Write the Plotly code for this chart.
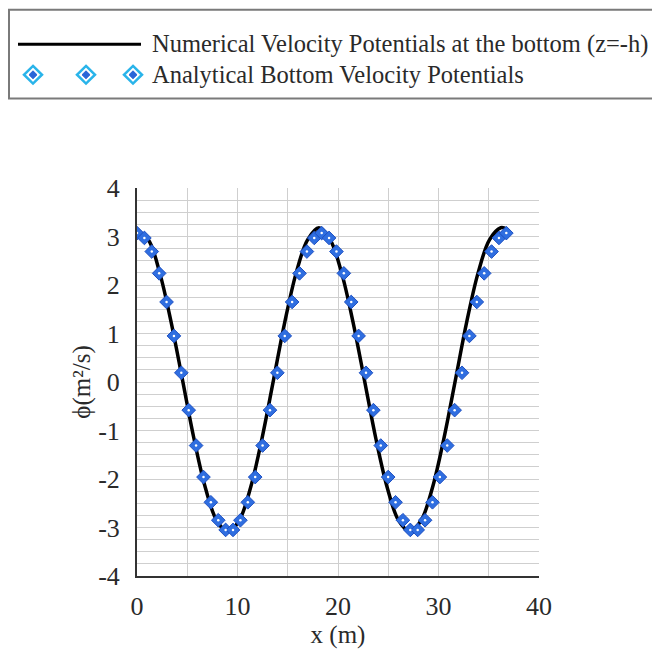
import plotly.graph_objects as go

# Analytical bottom velocity potentials (markers)
x_analytical = [0, 0.735, 1.47, 2.205, 2.94, 3.675, 4.41, 5.145, 5.88, 6.615, 7.35, 8.085, 8.82,
                9.555, 10.29, 11.025, 11.76, 12.495, 13.23, 13.965, 14.7, 15.435, 16.17, 16.905,
                17.64, 18.375, 19.11, 19.845, 20.58, 21.315, 22.05, 22.785, 23.52, 24.255, 24.99,
                25.725, 26.46, 27.195, 27.93, 28.665, 29.4, 30.135, 30.87, 31.605, 32.34, 33.075,
                33.81, 34.545, 35.28, 36.015, 36.75]
phi_analytical = [3.07, 2.97, 2.69, 2.24, 1.65, 0.95, 0.19, -0.58, -1.31, -1.96, -2.48, -2.85, -3.05,
                  -3.05, -2.85, -2.48, -1.96, -1.31, -0.58, 0.19, 0.95, 1.65, 2.24, 2.69, 2.97,
                  3.07, 2.97, 2.69, 2.24, 1.65, 0.95, 0.19, -0.58, -1.31, -1.96, -2.48, -2.85, -3.05,
                  -3.05, -2.85, -2.48, -1.96, -1.31, -0.58, 0.19, 0.95, 1.65, 2.24, 2.69, 2.97, 3.07]

# Numerical velocity potentials at the bottom (line)
x_numerical = [0, 1.13, 2.26, 3.39, 4.53, 5.66, 6.79, 7.92, 9.05, 10.18, 11.31, 12.44, 13.58,
               14.71, 15.84, 16.97, 18.10, 19.23, 20.36, 21.49, 22.63, 23.76, 24.89, 26.02, 27.15,
               28.28, 29.41, 30.54, 31.68, 32.81, 33.94, 35.07, 36.20, 36.80]
phi_numerical = [3.10, 2.93, 2.25, 1.24, 0.04, -1.16, -2.17, -2.85, -3.09, -2.85, -2.17, -1.16, 0.04,
                 1.24, 2.25, 2.93, 3.18, 2.93, 2.25, 1.24, 0.04, -1.16, -2.17, -2.85, -3.08,
                 -2.85, -2.17, -1.16, 0.04, 1.24, 2.25, 2.93, 3.18, 3.15]

x_ticks = [0, 10, 20, 30, 40]
y_ticks = [-4, -3, -2, -1, 0, 1, 2, 3, 4]

legend_labels = ["Numerical Velocity Potentials at the bottom (z=-h)",
                 "Analytical Bottom Velocity Potentials"]

FONT = "Liberation Serif"
TXT = "#2a2a2a"
W, H = 652, 653
PL, PR, PT, PB = 137, 539, 188, 582  # plot area in pixels


def fx(p):
    return (p - PL) / (PR - PL)


def fy(p):
    return (PB - p) / (PB - PT)


def diamond_path(cx, cy, r):
    return (f"M {fx(cx)},{fy(cy - r)} L {fx(cx + r)},{fy(cy)} "
            f"L {fx(cx)},{fy(cy + r)} L {fx(cx - r)},{fy(cy)} Z")


fig = go.Figure()

fig.add_trace(go.Scatter(
    x=x_numerical, y=phi_numerical, mode="lines",
    line=dict(color="black", width=3.5, shape="spline", smoothing=1.0),
    showlegend=False, name=legend_labels[0]))

fig.add_trace(go.Scatter(
    x=x_analytical, y=phi_analytical, mode="markers",
    marker=dict(symbol="diamond", size=10.5, color="#2f6ee0",
                line=dict(color="#1d4fc2", width=1)),
    showlegend=False, name=legend_labels[1]))
fig.add_trace(go.Scatter(
    x=x_analytical, y=phi_analytical, mode="markers",
    marker=dict(symbol="circle", size=2.5, color="white", line=dict(width=0)),
    showlegend=False, hoverinfo="skip"))

shapes = [
    dict(type="rect", xref="paper", yref="paper", x0=fx(9), x1=fx(700), y0=fy(97), y1=fy(7),
         line=dict(color="#7a7a7a", width=2), fillcolor="rgba(0,0,0,0)", layer="above"),
    dict(type="line", xref="paper", yref="paper", x0=fx(18), x1=fx(141), y0=fy(42), y1=fy(42),
         line=dict(color="black", width=3)),
]
for cx in [33, 86, 133]:
    shapes.append(dict(type="path", xref="paper", yref="paper", path=diamond_path(cx, 73, 9),
                       line=dict(color="#29b4ea", width=2.5), fillcolor="white"))
    shapes.append(dict(type="path", xref="paper", yref="paper", path=diamond_path(cx, 73, 4),
                       line=dict(color="#2a66d8", width=1), fillcolor="#2a66d8"))

annotations = [
    dict(text=legend_labels[0], xref="paper", yref="paper", x=fx(150), y=fy(42),
         xanchor="left", yanchor="middle", showarrow=False,
         font=dict(family=FONT, size=24.5, color=TXT)),
    dict(text=legend_labels[1], xref="paper", yref="paper", x=fx(150), y=fy(73),
         xanchor="left", yanchor="middle", showarrow=False,
         font=dict(family=FONT, size=24.5, color=TXT)),
]

fig.update_layout(
    width=W, height=H,
    margin=dict(l=PL, r=W - PR, t=PT, b=H - PB),
    paper_bgcolor="white", plot_bgcolor="white",
    font=dict(family=FONT, size=25, color=TXT),
    shapes=shapes, annotations=annotations,
    xaxis=dict(range=[0, 40], tickvals=x_ticks, ticktext=[str(v) for v in x_ticks],
               showgrid=True, gridcolor="#cfcfcf", gridwidth=1,
               minor=dict(dtick=5, showgrid=True, gridcolor="#cfcfcf", gridwidth=1),
               showline=True, linecolor="#333", linewidth=2,
               zeroline=False, ticks="", ticklabelstandoff=6,
               title=dict(text="x (m)", font=dict(family=FONT, size=25, color=TXT), standoff=2),
               tickfont=dict(family=FONT, size=26, color=TXT)),
    yaxis=dict(range=[-4, 4], tickvals=y_ticks, ticktext=[str(v) for v in y_ticks],
               showgrid=True, gridcolor="#cfcfcf", gridwidth=1,
               minor=dict(dtick=0.25, showgrid=True, gridcolor="#cfcfcf", gridwidth=1),
               showline=True, linecolor="#333", linewidth=2,
               zeroline=False, ticks="", ticklabelstandoff=10,
               title=dict(text="ϕ(m²/s)", font=dict(family=FONT, size=25, color=TXT), standoff=0),
               tickfont=dict(family=FONT, size=26, color=TXT)),
)

fig.write_html("out.html")
